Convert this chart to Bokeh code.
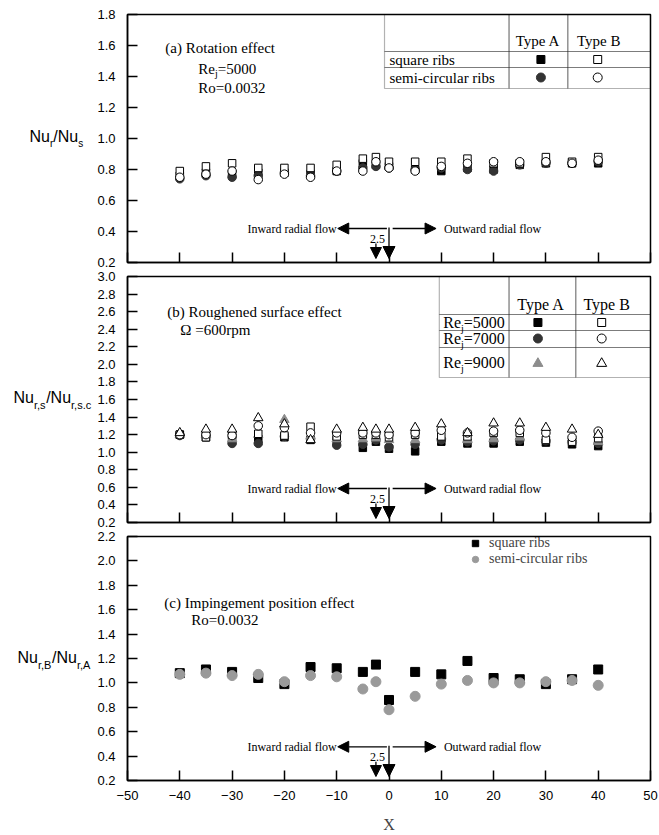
from bokeh.plotting import figure
from bokeh.models import (Range1d, FixedTicker, Label, Arrow, NormalHead, BoxAnnotation,
                          Legend, LegendItem, PrintfTickFormatter)
from bokeh.layouts import column, row
from bokeh.embed import file_html
from bokeh.resources import INLINE

# ---------------- data ----------------
x_pos = [-40, -35, -30, -25, -20, -15, -10, -5, -2.5, 0, 5, 10, 15, 20, 25, 30, 35, 40]

# (a) rotation effect
rot_sq_A = [0.76, 0.78, 0.77, 0.78, 0.78, 0.77, 0.79, 0.84, 0.83, 0.82, 0.80, 0.79, 0.81, 0.80, 0.83, 0.84, 0.84, 0.84]
rot_ci_A = [0.74, 0.76, 0.75, 0.76, 0.78, 0.76, 0.79, 0.81, 0.82, 0.81, 0.80, 0.81, 0.80, 0.79, 0.83, 0.84, 0.84, 0.85]
rot_sq_B = [0.79, 0.82, 0.84, 0.81, 0.81, 0.81, 0.83, 0.87, 0.88, 0.85, 0.85, 0.85, 0.87, 0.84, 0.84, 0.88, 0.85, 0.88]
rot_ci_B = [0.75, 0.77, 0.79, 0.735, 0.77, 0.75, 0.79, 0.79, 0.85, 0.81, 0.79, 0.82, 0.84, 0.85, 0.85, 0.85, 0.84, 0.86]

# (b) roughened surface effect
rough_sq_A = [1.20, 1.17, 1.13, 1.15, 1.17, 1.14, 1.14, 1.05, 1.12, 1.04, 1.01, 1.12, 1.10, 1.10, 1.12, 1.11, 1.09, 1.07]
rough_ci_A = [1.19, 1.18, 1.10, 1.10, 1.18, 1.16, 1.08, 1.09, 1.14, 1.06, 1.09, 1.14, 1.12, 1.13, 1.14, 1.13, 1.12, 1.10]
rough_tr_A = [1.20, 1.20, 1.15, 1.20, 1.37, 1.18, 1.15, 1.15, 1.16, 1.14, 1.14, 1.18, 1.14, 1.15, 1.17, 1.15, 1.14, 1.12]
rough_sq_B = [1.20, 1.17, 1.20, 1.21, 1.19, 1.29, 1.18, 1.20, 1.20, 1.17, 1.20, 1.18, 1.18, 1.22, 1.22, 1.14, 1.12, 1.16]
rough_ci_B = [1.20, 1.20, 1.19, 1.30, 1.28, 1.22, 1.22, 1.22, 1.22, 1.20, 1.22, 1.25, 1.22, 1.24, 1.25, 1.22, 1.17, 1.24]
rough_tr_B = [1.22, 1.26, 1.26, 1.39, 1.32, 1.14, 1.26, 1.28, 1.26, 1.26, 1.28, 1.32, 1.22, 1.33, 1.33, 1.28, 1.26, 1.20]

# (c) impingement position effect
imp_sq = [1.08, 1.11, 1.09, 1.04, 0.99, 1.13, 1.12, 1.09, 1.15, 0.86, 1.09, 1.07, 1.18, 1.04, 1.03, 0.99, 1.03, 1.11]
imp_ci = [1.07, 1.08, 1.06, 1.07, 1.01, 1.06, 1.05, 0.95, 1.01, 0.78, 0.89, 0.99, 1.02, 1.00, 1.00, 1.01, 1.02, 0.98]

x_ticks = [-50, -40, -30, -20, -10, 0, 10, 20, 30, 40, 50]
y_ticks_a = [0.2, 0.4, 0.6, 0.8, 1.0, 1.2, 1.4, 1.6, 1.8]
y_ticks_b = [0.2, 0.4, 0.6, 0.8, 1.0, 1.2, 1.4, 1.6, 1.8, 2.0, 2.2, 2.4, 2.6, 2.8, 3.0]
y_ticks_c = [0.2, 0.4, 0.6, 0.8, 1.0, 1.2, 1.4, 1.6, 1.8, 2.0, 2.2]

SERIF = "Liberation Serif"
SANS = "Liberation Sans"

LW = 94            # width of the left label strip
W = 659 - LW       # width of the plot column
FL, FR = 125, 650  # frame left/right in page pixels

SANS_W = {"N": .722, "u": .556, "/": .278, "r": .333, "s": .5, ",": .278, ".": .278,
          "c": .5, "B": .667, "A": .667}
SERIF_W = {"R": .667, "e": .444, "j": .278, "=": .564}


def tw(text, size, table):
    return sum(table.get(ch, 0.5) for ch in text) * size


def make_fig(height, top, bottom, yr, yticks, last):
    p = figure(width=W, height=height, x_range=Range1d(-50, 50), y_range=Range1d(*yr),
               output_backend="svg", toolbar_location=None,
               min_border_left=FL - LW, min_border_right=659 - FR,
               min_border_top=top, min_border_bottom=bottom)
    p.grid.visible = False
    p.outline_line_color = "black"
    p.outline_line_width = 1.5
    p.background_fill_color = "white"
    p.border_fill_color = "white"
    ya = p.yaxis[0]
    ya.ticker = FixedTicker(ticks=yticks)
    ya.formatter = PrintfTickFormatter(format="%.1f")
    ya.major_tick_in = 10
    ya.major_tick_out = 0
    ya.minor_tick_line_color = None
    ya.axis_line_width = 1.5
    ya.major_tick_line_width = 1.5
    ya.major_label_standoff = 12
    ya.major_label_text_font = SANS
    ya.major_label_text_font_size = "13px"
    ya.major_label_text_color = "black"
    xa = p.xaxis[0]
    xa.ticker = FixedTicker(ticks=x_ticks)
    xa.major_tick_in = 10
    xa.major_tick_out = 0
    xa.minor_tick_line_color = None
    xa.axis_line_width = 1.5
    xa.major_tick_line_width = 1.5
    if last:
        xa.major_label_standoff = 10
        xa.major_label_text_font = SANS
        xa.major_label_text_font_size = "13px"
        xa.major_label_text_color = "black"
        xa.axis_label = "X"
        xa.axis_label_text_font = SERIF
        xa.axis_label_text_font_size = "16px"
        xa.axis_label_text_font_style = "normal"
        xa.axis_label_standoff = 13
    else:
        xa.major_label_text_font_size = "0px"
        xa.major_label_text_color = None
        xa.major_label_standoff = 0
    return p


class Panel:
    def __init__(self, p, yr, top, bottom):
        self.p, self.yr, self.top, self.bottom = p, yr, top, bottom

    def x(self, px):
        return -50 + (px - FL) * 100.0 / (FR - FL)

    def x_to_px(self, xv):
        return FL + (xv + 50) * (FR - FL) / 100.0

    def y(self, py):
        return self.yr[0] + (self.bottom - py) / (self.bottom - self.top) * (self.yr[1] - self.yr[0])

    def text(self, px, py, txt, size, font=SERIF, align="left", xo=0, yo=0):
        self.p.add_layout(Label(x=self.x(px), y=self.y(py), text=txt, text_font=font,
                                text_font_size="%gpx" % size, text_align=align,
                                text_baseline="middle", text_color="black",
                                x_offset=xo, y_offset=yo))

    def parts(self, px, py, parts, font, table):
        off = 0.0
        for txt, size, dy in parts:
            self.text(px, py, txt, size, font=font, xo=off, yo=-dy)
            off += tw(txt, size, table)

    def box(self, l, r, t, b):
        self.p.add_layout(BoxAnnotation(left=self.x(l), right=self.x(r), top=self.y(t),
                                        bottom=self.y(b), fill_alpha=0, fill_color=None,
                                        line_color="black", line_width=1.2))

    def flow_arrows(self):
        b = self.bottom
        ya = self.y(b - 34)

        def head(s):
            return NormalHead(size=s, fill_color="black", line_color="black")
        self.p.add_layout(Arrow(end=head(11), x_start=-0.4, y_start=ya, x_end=-9.8, y_end=ya,
                                line_width=1.3, line_color="black"))
        self.p.add_layout(Arrow(end=head(11), x_start=0.7, y_start=ya, x_end=9.0, y_end=ya,
                                line_width=1.3, line_color="black"))
        self.p.add_layout(Arrow(end=head(12), x_start=0, y_start=self.y(b - 35), x_end=0,
                                y_end=self.y(b - 4), line_width=1.3, line_color="black"))
        self.p.add_layout(Arrow(end=head(11), x_start=-2.5, y_start=self.y(b - 19), x_end=-2.5,
                                y_end=self.y(b - 4), line_width=1.3, line_color="black"))
        self.text(self.x_to_px(-10.0), b - 34, "Inward radial flow", 12, align="right")
        self.text(self.x_to_px(10.5), b - 34, "Outward radial flow", 12, align="left")
        self.text(self.x_to_px(-2.2), b - 24, "2.5", 12, align="center")


# ---------------- left label strip ----------------
lf = figure(width=LW, height=835, x_range=Range1d(0, LW), y_range=Range1d(835, 0),
            output_backend="svg", toolbar_location=None, x_axis_location=None,
            y_axis_location=None, min_border=0, min_border_left=0, min_border_right=0,
            min_border_top=0, min_border_bottom=0)
lf.grid.visible = False
lf.outline_line_color = None
lf.background_fill_color = "white"
lf.border_fill_color = "white"


def ylabel(px, py, parts):
    off = 0.0
    for txt, size, dy in parts:
        lf.add_layout(Label(x=px, y=py, text=txt, text_font=SANS, text_font_size="%gpx" % size,
                            text_align="left", text_baseline="middle", text_color="black",
                            x_offset=off, y_offset=-dy))
        off += tw(txt, size, SANS_W)


ylabel(29, 136, [("Nu", 16, 0), ("r", 10, 7), ("/Nu", 16, 0), ("s", 10, 7)])
ylabel(13, 397, [("Nu", 16, 0), ("r,s", 11, 7), ("/Nu", 16, 0), ("r,s.c", 11, 7)])
ylabel(17, 657, [("Nu", 16, 0), ("r,B", 11, 7), ("/Nu", 16, 0), ("r,A", 11, 7)])

# ---------------- panel (a) ----------------
yr_a = (0.2, 1.8)
p1 = make_fig(269, 14, 7, yr_a, y_ticks_a, False)
A = Panel(p1, yr_a, 14, 262)
p1.scatter(x_pos, rot_sq_A, marker="square", size=7.5, fill_color="black", line_color="black")
p1.scatter(x_pos, rot_ci_A, marker="circle", size=8.5, fill_color="#333333", line_color="#333333")
p1.scatter(x_pos, rot_sq_B, marker="square", size=7.5, fill_color="white", line_color="black", line_width=1)
p1.scatter(x_pos, rot_ci_B, marker="circle", size=8.5, fill_color="white", line_color="black", line_width=1)

A.text(163, 47, "(a)  Rotation effect", 15)
A.parts(196, 68, [("Re", 15, 0), ("j", 10, 5), ("=5000", 15, 0)], SERIF, SERIF_W)
A.text(196, 87, "Ro=0.0032", 15)
for (l, r) in [(383, 508), (508, 567), (567, 650)]:
    for (t, b) in [(14, 51), (51, 67), (67, 88)]:
        A.box(l, r, t, b)
A.text(537, 40, "Type A", 15, align="center")
A.text(598, 40, "Type B", 15, align="center")
A.text(388, 59, "square ribs", 15)
A.text(388, 77, "semi-circular ribs", 15)
p1.scatter([A.x(540)], [A.y(59)], marker="square", size=8, fill_color="black", line_color="black")
p1.scatter([A.x(597)], [A.y(59)], marker="square", size=8, fill_color="white", line_color="black")
p1.scatter([A.x(540)], [A.y(77)], marker="circle", size=9, fill_color="#333333", line_color="#333333")
p1.scatter([A.x(597)], [A.y(77)], marker="circle", size=9, fill_color="white", line_color="black")
A.flow_arrows()

# ---------------- panel (b) ----------------
yr_b = (0.2, 3.0)
p2 = make_fig(260, 7, 7, yr_b, y_ticks_b, False)
B = Panel(p2, yr_b, 276, 522)
p2.scatter(x_pos, rough_sq_A, marker="square", size=7.5, fill_color="black", line_color="black")
p2.scatter(x_pos, rough_ci_A, marker="circle", size=8.5, fill_color="#333333", line_color="#333333")
p2.scatter(x_pos, rough_tr_A, marker="triangle", size=9.5, fill_color="#8c8c8c", line_color="#8c8c8c")
p2.scatter(x_pos, rough_sq_B, marker="square", size=7.5, fill_color="white", line_color="black", line_width=1)
p2.scatter(x_pos, rough_ci_B, marker="circle", size=8.5, fill_color="white", line_color="black", line_width=1)
p2.scatter(x_pos, rough_tr_B, marker="triangle", size=9.5, fill_color="white", line_color="black", line_width=1)

B.text(165, 311, "(b) Roughened surface effect", 15)
B.text(178, 329, "\u03a9 =600rpm", 15)
for (l, r) in [(438, 508), (508, 575), (575, 650)]:
    for (t, b) in [(276, 314), (314, 330), (330, 347), (347, 377)]:
        B.box(l, r, t, b)
B.text(540, 304, "Type A", 16, align="center")
B.text(606, 304, "Type B", 16, align="center")
for yy, num in [(322, "=5000"), (338, "=7000"), (362, "=9000")]:
    B.parts(442, yy, [("Re", 16, 0), ("j", 10, 6), (num, 16, 0)], SERIF, SERIF_W)
p2.scatter([B.x(537)], [B.y(322)], marker="square", size=8, fill_color="black", line_color="black")
p2.scatter([B.x(601)], [B.y(322)], marker="square", size=8, fill_color="white", line_color="black")
p2.scatter([B.x(537)], [B.y(338)], marker="circle", size=9, fill_color="#333333", line_color="#333333")
p2.scatter([B.x(601)], [B.y(338)], marker="circle", size=9, fill_color="white", line_color="black")
p2.scatter([B.x(537)], [B.y(363)], marker="triangle", size=10, fill_color="#8c8c8c", line_color="#8c8c8c")
p2.scatter([B.x(601)], [B.y(363)], marker="triangle", size=10, fill_color="white", line_color="black")
B.flow_arrows()

# ---------------- panel (c) ----------------
yr_c = (0.2, 2.2)
p3 = make_fig(306, 7, 53, yr_c, y_ticks_c, True)
C = Panel(p3, yr_c, 536, 782)
r_sq = p3.scatter(x_pos, imp_sq, marker="square", size=9, fill_color="black", line_color="black")
r_ci = p3.scatter(x_pos, imp_ci, marker="circle", size=10, fill_color="#9a9a9a", line_color="#9a9a9a")
leg = Legend(items=[LegendItem(label="square ribs", renderers=[r_sq]),
                    LegendItem(label="semi-circular ribs", renderers=[r_ci])],
             location=(340, 213), border_line_color=None, background_fill_alpha=0,
             label_text_font=SERIF, label_text_font_size="14px", glyph_height=16,
             glyph_width=16, label_height=16, padding=0, spacing=0, margin=0,
             label_standoff=6)
p3.add_layout(leg)
C.text(162, 603, "(c) Impingement position effect", 15)
C.text(189, 620, "Ro=0.0032", 15)
C.flow_arrows()

layout = row(lf, column(p1, p2, p3, spacing=0), spacing=0)
open("out.html", "w").write(file_html(layout, INLINE))
